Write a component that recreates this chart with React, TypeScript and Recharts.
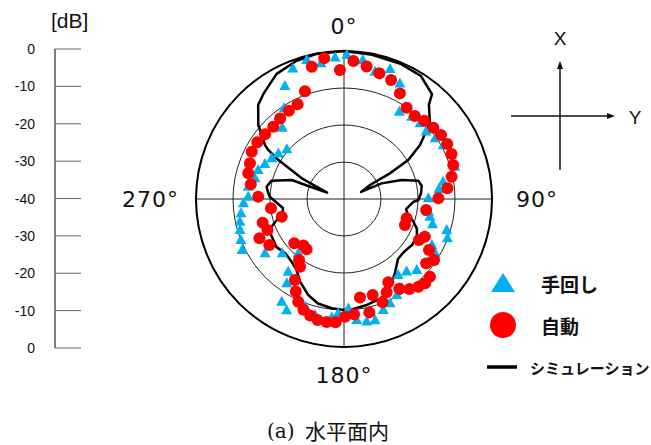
import React from "react";
import {
  RadarChart,
  Radar,
  PolarGrid,
  PolarAngleAxis,
  PolarRadiusAxis,
  Legend,
  ComposedChart,
  Line,
  XAxis,
  YAxis,
} from "recharts";

// polar axes
const ANGLE_TICKS = [0, 90, 180, 270];
const RING_TICKS = [-40, -30, -20, -10, 0];

// left dB scale (0 at the bottom, 80 at the top)
const SCALE_TICKS = [0, 10, 20, 30, 40, 50, 60, 70, 80];
const SCALE_LABELS = ["0", "-10", "-20", "-30", "-40", "-30", "-20", "-10", "0"];

// シミュレーション: path order, angle [deg] clockwise from 0°, level [dB]
const SIM_ANGLE = [
  0, 11, 23, 32, 40, 42, 48.5, 54.6, 58.8, 60.8, 61.7, 67.6, 67.4, 71.8, 76.2,
  80.5, 85.5, 90.8, 92.5, 99.2, 104, 107.7, 112.3, 116.9, 124.1, 131.5, 138, 145,
  150.3, 154.7, 160.2, 167.8, 175.3, 180, 186.4, 194, 200.4, 208, 213.7, 219.8,
  227.5, 234.5, 243.7, 249, 252.6, 256.2, 261.6, 267.5, 271.5, 274.3, 279, 284.2,
  290, 290, 291, 296.1, 300.7, 302.9, 304.4, 310.8, 317.6, 322.5, 331.7, 341.1, 349.3,
];
const SIM_DB = [
  0, -0.3, -0.4, -0.8, -3, -5.7, -9, -14.8, -19.7, -25.8, -32, -35, -29, -23.6, -19.3,
  -18.7, -19.1, -19.9, -21.3, -23, -22.2, -20.4, -18.7, -17.9, -17.8, -18.4, -18.2, -15.9,
  -13.9, -12.2, -11.3, -10.7, -10.2, -10, -10.3, -10.9, -12.3, -14.7, -16.9, -17.9,
  -18.4, -17.6, -18, -18.9, -21, -23, -23.3, -21.6, -20, -19.5, -18.8, -19.8,
  -25, -29.7, -35.1, -27.3, -19.4, -15.6, -14.1, -9.4, -5.6, -4.2, -1.6, -0.5, -0.1,
];

// 手回し
const MANUAL_ANGLE = [
  1.1, 7.7, 13.7, 19.5, 25.8, 32.4, 39.4, 45.1, 50.6, 56.3, 61.5, 67.8, 73.8, 80.1, 84,
  89.5, 98.6, 101.6, 105.9, 106.8, 110.8, 117.7, 120.8, 126.6, 134.3, 139.2, 144.5,
  147.1, 151.2, 156.2, 160.5, 165.6, 169.5, 174, 177.7, 182.9, 185.9, 194, 199.9, 207.3,
  211.2, 214.2, 217.5, 220.1, 228.7, 235.5, 243.4, 248.3, 253.4, 257.7, 262.1, 267.6,
  271.4, 277.3, 283.1, 288.7, 293.9, 299.4, 304.8, 311.1, 319.1, 326.6, 332.4, 338.6,
  345, 350.4, 356.4,
];
const MANUAL_DB = [
  -1.1, -2.1, -4.6, -2.7, -5.3, -12.1, -11.2, -11, -11.3, -10.4, -9.5, -8.6, -8.8, -12.8, -14.2,
  -17.2, -16.9, -16.3, -15.1, -11, -10.1, -13.2, -11.3, -11.6, -12.5, -14.1, -14.8,
  -11.3, -10.4, -9.2, -8.2, -6.2, -6.3, -7.1, -10.4, -9.1, -7.8, -7.7, -9.1, -6.2,
  -7.5, -12.5, -15.2, -20.8, -17.8, -14.1, -9.2, -10, -10.7, -11.2, -11.9, -12.8,
  -14.1, -13.9, -15.3, -15.5, -16.6, -17.6, -18.4, -19.5, -14.5, -10.6, -5.5, -2.1,
  -1.1, -2.8, -1.7,
];

// 自動
const AUTO_ANGLE = [
  3.9, 9.7, 15.7, 21.6, 27.9, 34.5, 40.5, 45.8, 51.4, 56.6, 62, 67.3, 72.7, 78.3, 84.1,
  89.6, 97.6, 107.1, 113.1, 115, 118.7, 121, 124.1, 128.1, 132.1, 136.1, 139.7, 144,
  148.4, 152, 155.4, 159.5, 163.4, 167.4, 170.8, 175, 179.5, 183.9, 188, 192.3, 196.2,
  200.1, 204, 207.5, 211.2, 213, 216.4, 216.7, 221.1, 228.3, 238.4, 245.1, 247.9, 253.7,
  254.1, 262.7, 271.5, 279, 285, 290.8, 297.1, 303.2, 309.3, 315.6, 321.6, 328, 333.9,
  340.1, 346.3, 352, 358.2,
];
const AUTO_DB = [
  -2.6, -3.7, -4.7, -5.4, -7.7, -10.1, -10.5, -9.7, -9.1, -8.6, -8.4, -8.5, -9.1, -10.3, -11.9,
  -14.5, -17.6, -22.3, -22.1, -15.9, -16.9, -13.2, -10.6, -11.8, -8.7, -8.4, -8.9, -9.9,
  -11.5, -14.5, -12.3, -10.2, -12.9, -8.6, -13, -8.7, -8.2, -6.6, -6.4, -6.5, -7.2,
  -8.1, -9.6, -11.8, -14.4, -18.2, -19.5, -23.1, -23.3, -22, -16.3, -14.8, -17.7, -17.1,
  -22.5, -20.1, -16.8, -14.5, -13.2, -12.8, -12, -12, -12.4, -12.7, -12.2, -11.9, -11.5,
  -9, -3.2, -1.6, -5.1,
];

const BLUE = "#00b0f0";
const RED = "#ff0000";
const LEGEND_ORDER = ["manual", "auto", "sim"];

const data = [
  ...SIM_ANGLE.map((a, i) => ({ angle: a, sim: SIM_DB[i] })),
  ...MANUAL_ANGLE.map((a, i) => ({ angle: a, manual: MANUAL_DB[i] })),
  ...AUTO_ANGLE.map((a, i) => ({ angle: a, auto: AUTO_DB[i] })),
];

// a row only belongs to the series whose key it carries
const hasValue = (p: any) => typeof p?.value === "number" && Number.isFinite(p.x ?? p.cx);

function dotRow(props: any) {
  const k = props.dataKey;
  const p = props.payload;
  const v = p?.[k] ?? p?.payload?.[k];
  return typeof v === "number" && Number.isFinite(props.cx) && Number.isFinite(props.cy);
}

function TriangleDot(props: any) {
  const { cx, cy, index } = props;
  if (!dotRow(props)) return <g key={`t${index}`} />;
  return (
    <path
      key={`t${index}`}
      d={`M${cx},${cy - 6}L${cx + 5.5},${cy + 4}L${cx - 5.5},${cy + 4}Z`}
      fill={BLUE}
    />
  );
}

function CircleDot(props: any) {
  const { cx, cy, index } = props;
  if (!dotRow(props)) return <g key={`c${index}`} />;
  return <circle key={`c${index}`} cx={cx} cy={cy} r={6} fill={RED} />;
}

function SimShape(props: any) {
  const pts = (props.points ?? []).filter(hasValue);
  if (!pts.length) return null;
  const d = pts.map((p: any, i: number) => `${i ? "L" : "M"}${p.x},${p.y}`).join("") + "Z";
  return <path d={d} fill="none" stroke="#000" strokeWidth={2.5} strokeLinejoin="round" />;
}

function AngleTick(props: any) {
  const { x, y, payload } = props;
  const v = payload.value;
  let anchor = "middle";
  let baseline = "central";
  let dx = 0;
  let dy = 0;
  if (v === 0) { baseline = "alphabetic"; dy = 0; }
  if (v === 180) { baseline = "hanging"; dy = 3; }
  if (v === 90) { anchor = "start"; dx = 7; }
  if (v === 270) anchor = "end";
  return (
    <text
      x={x + dx}
      y={y + dy}
      textAnchor={anchor}
      dominantBaseline={baseline}
      fontFamily="DejaVu Sans"
      fontSize={22}
      letterSpacing={1}
      fill="#111"
    >
      {`${v}°`}
    </text>
  );
}

function ScaleTick(props: any) {
  const { x, y, payload } = props;
  return (
    <g>
      <line x1={x} y1={y} x2={x + 26} y2={y} stroke="#666" strokeWidth={1} />
      <text
        x={x - 20}
        y={y}
        textAnchor="end"
        dominantBaseline="central"
        fontFamily="Liberation Sans"
        fontSize={14}
        fill="#111"
      >
        {SCALE_LABELS[SCALE_TICKS.indexOf(payload.value)]}
      </text>
    </g>
  );
}

function LegendContent({ payload }: { payload?: any[] }) {
  const items = [...(payload ?? [])].sort(
    (a, b) => LEGEND_ORDER.indexOf(a.dataKey) - LEGEND_ORDER.indexOf(b.dataKey)
  );
  return (
    <div>
      {items.map((it) => (
        <div
          key={it.dataKey}
          style={{ display: "flex", alignItems: "center", height: 42 }}
        >
          <svg width={34} height={30}>
            {it.dataKey === "manual" && <path d="M17,5L29,24L5,24Z" fill={BLUE} />}
            {it.dataKey === "auto" && <circle cx={17} cy={15} r={13} fill={RED} />}
            {it.dataKey === "sim" && <line x1={1} y1={15} x2={31} y2={15} stroke="#000" strokeWidth={3.5} />}
          </svg>
          <span
            style={{
              marginLeft: it.dataKey === "sim" ? 10 : 21,
              fontFamily: "Noto Sans CJK JP",
              fontWeight: 700,
              fontSize: it.dataKey === "sim" ? 15 : 19,
              color: "#111",
              whiteSpace: "nowrap",
            }}
          >
            {it.value}
          </span>
        </div>
      ))}
    </div>
  );
}

export default function App() {
  return (
    <div
      style={{
        position: "absolute",
        left: 0,
        top: 0,
        width: 651,
        height: 445,
        background: "#fff",
        overflow: "hidden",
      }}
    >
      {/* left dB scale */}
      <div style={{ position: "absolute", left: 0, top: 0 }}>
        <ComposedChart
          width={100}
          height={445}
          data={SCALE_TICKS.map((v) => ({ v }))}
          margin={{ top: 49, bottom: 97, left: 0, right: 0 }}
        >
          <XAxis dataKey="v" hide />
          <YAxis
            type="number"
            domain={[0, 80]}
            ticks={SCALE_TICKS}
            interval={0}
            width={55}
            tickSize={0}
            tickMargin={0}
            tickLine={false}
            axisLine={{ stroke: "#000", strokeWidth: 1 }}
            tick={<ScaleTick />}
          />
          <Line dataKey="v" stroke="none" dot={false} activeDot={false} isAnimationActive={false} />
        </ComposedChart>
      </div>
      <div
        style={{
          position: "absolute",
          left: 51,
          top: 9,
          fontFamily: "Liberation Sans",
          fontSize: 21,
          color: "#111",
        }}
      >
        [dB]
      </div>

      {/* X / Y orientation sketch */}
      <svg
        width={651}
        height={445}
        style={{ position: "absolute", left: 0, top: 0 }}
      >
        <line x1={560} y1={170} x2={560} y2={66} stroke="#111" strokeWidth={1.5} />
        <path d="M560,61L557,69L563,69Z" fill="#111" />
        <line x1={511} y1={116} x2={610} y2={116} stroke="#111" strokeWidth={1.5} />
        <path d="M615,116L607,113L607,119Z" fill="#111" />
        <text x={560} y={38} textAnchor="middle" dominantBaseline="central" fontFamily="Liberation Sans" fontSize={19} fill="#111">X</text>
        <text x={635} y={117} textAnchor="middle" dominantBaseline="central" fontFamily="Liberation Sans" fontSize={19} fill="#111">Y</text>
      </svg>

      {/* polar chart */}
      <div style={{ position: "absolute", left: 0, top: 0 }}>
        <RadarChart
          width={651}
          height={445}
          data={data}
          cx={344}
          cy={199}
          innerRadius={0}
          outerRadius={148}
          startAngle={90}
          endAngle={-270}
          margin={{ top: 0, right: 0, bottom: 0, left: 0 }}
        >
          <PolarGrid gridType="circle" stroke="#222" strokeWidth={1} />
          <PolarAngleAxis
            dataKey="angle"
            type="number"
            domain={[0, 360]}
            ticks={ANGLE_TICKS}
            tickSize={17}
            tickLine={false}
            axisLineType="circle"
            axisLine={{ stroke: "#000", strokeWidth: 2 }}
            tick={<AngleTick />}
          />
          <PolarRadiusAxis
            type="number"
            domain={[-40, 0]}
            ticks={RING_TICKS}
            angle={90}
            tick={false}
            axisLine={false}
          />
          <Radar
            name="シミュレーション"
            dataKey="sim"
            stroke="#000"
            strokeWidth={2.5}
            fill="none"
            shape={<SimShape />}
            dot={false}
            isAnimationActive={false}
          />
          <Radar
            name="手回し"
            dataKey="manual"
            stroke="none"
            fill="none"
            fillOpacity={0}
            dot={<TriangleDot />}
            isAnimationActive={false}
          />
          <Radar
            name="自動"
            dataKey="auto"
            stroke="none"
            fill="none"
            fillOpacity={0}
            dot={<CircleDot />}
            isAnimationActive={false}
          />
          <Legend
            layout="vertical"
            align="right"
            verticalAlign="bottom"
            content={<LegendContent />}
            wrapperStyle={{ left: 486, top: 262, width: 165, bottom: "auto", right: "auto" }}
          />
        </RadarChart>
      </div>

      {/* caption */}
      <div
        style={{
          position: "absolute",
          left: 267,
          top: 419,
          fontFamily: "DejaVu Serif",
          fontSize: 20,
          color: "#111",
          lineHeight: "24px",
        }}
      >
        (a)
      </div>
      <div
        style={{
          position: "absolute",
          left: 305,
          top: 417,
          fontFamily: "Noto Sans CJK JP",
          fontSize: 21,
          color: "#111",
          lineHeight: "26px",
        }}
      >
        水平面内
      </div>
    </div>
  );
}
